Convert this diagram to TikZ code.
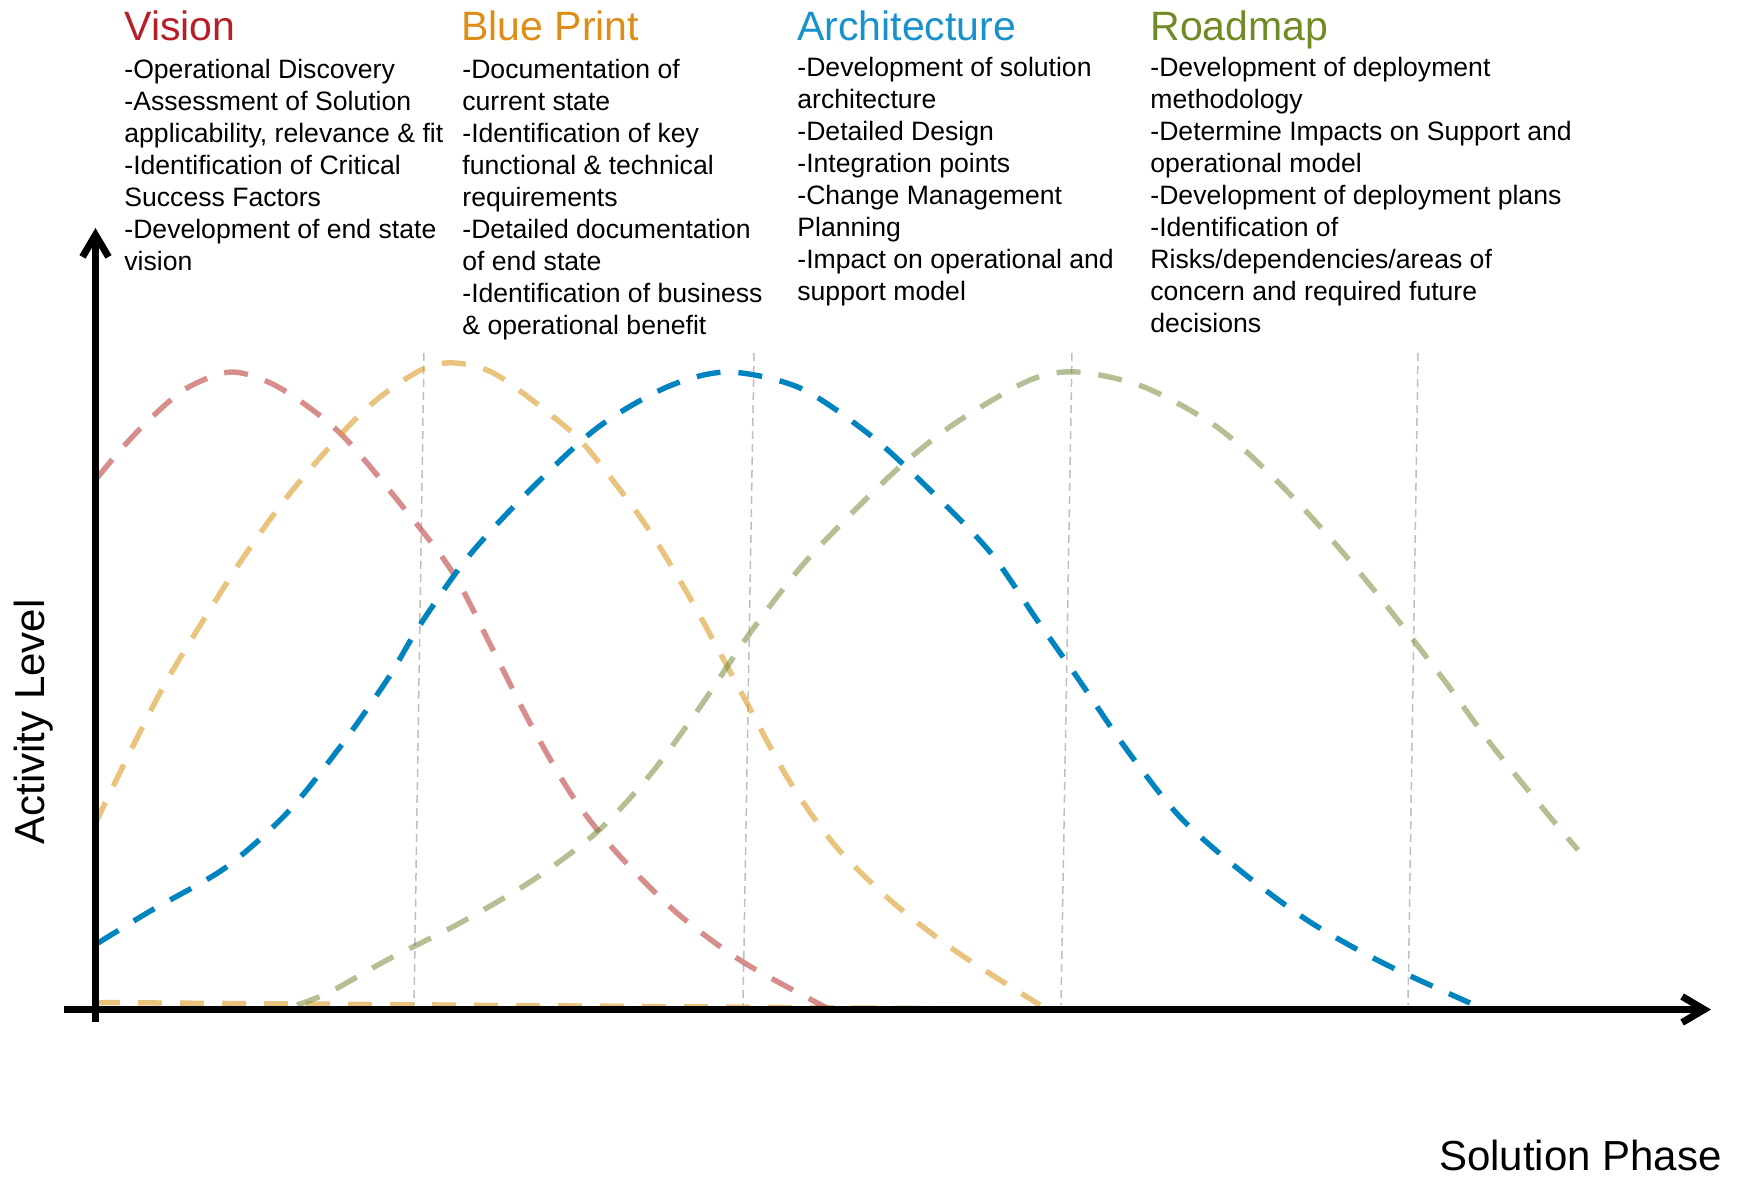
\documentclass[tikz,border=0pt]{standalone}
\usepackage{fontspec}
\setmainfont{Liberation Sans}
\usetikzlibrary{arrows.meta}

\definecolor{visionred}{RGB}{183,31,40}
\definecolor{printorange}{RGB}{222,142,22}
\definecolor{archblue}{RGB}{24,146,204}
\definecolor{roadgreen}{RGB}{112,138,36}
\definecolor{visioncurve}{RGB}{192,80,77}
\definecolor{printcurve}{RGB}{220,155,40}
\definecolor{archcurve}{RGB}{0,132,192}
\definecolor{roadcurve}{RGB}{118,140,60}

\begin{document}
\begin{tikzpicture}[x=0.5pt, y=-0.5pt,
        title/.style = {anchor=base west, inner sep=0, font=\fontsize{20.5}{24}\selectfont},
        body/.style = {anchor=north west, inner sep=0, align=left, font=\fontsize{13.3}{16}\selectfont},
        axislabel/.style = {inner sep=0, font=\fontsize{21}{24}\selectfont},
        phase/.style = {draw=black!25, line width=0.75pt, dash pattern=on 4pt off 2.5pt},
        curve/.style = {line width=2.7pt, dash pattern=on 12pt off 9pt},
        axis/.style = {line width=3.5pt, -{Straight Barb[length=11pt, width=13pt]}}]
                \useasboundingbox (0,0) rectangle (1742,1178);

                \node[title, text=visionred] at (124,40) (vision) {Vision};
                \node[body] at (124,58.5) (visiontext) {-Operational Discovery\\-Assessment of Solution\\applicability, relevance \& fit\\-Identification of Critical\\Success Factors\\-Development of end state\\vision};
                \node[title, text=printorange] at (461,40) (print) {Blue Print};
                \node[body] at (462,58.5) (printtext) {-Documentation of\\current state\\-Identification of key\\functional \& technical\\requirements\\-Detailed documentation\\of end state\\-Identification of business\\\& operational benefit};
                \node[title, text=archblue] at (797,40) (arch) {Architecture};
                \node[body] at (797,56.5) (archtext) {-Development of solution\\architecture\\-Detailed Design\\-Integration points\\-Change Management\\Planning\\-Impact on operational and\\support model};
                \node[title, text=roadgreen] at (1150,40) (road) {Roadmap};
                \node[body] at (1150,56.5) (roadtext) {-Development of deployment\\methodology\\-Determine Impacts on Support and\\operational model\\-Development of deployment plans\\-Identification of\\Risks/dependencies/areas of\\concern and required future\\decisions};

                \node[axislabel, rotate=90, anchor=base] at (44,722) (ylabel) {Activity Level};
                \node[axislabel, anchor=base east] at (1722,1170) (xlabel) {Solution Phase};

                \foreach \xt/\xb in {424/414, 754/743, 1072/1061, 1418/1408}
                    \draw[phase] (\xt,353) -- (\xb,1005);

                \draw[curve, printcurve, draw opacity=0.6] (96,1002.5) -- (1000,1009);
                \draw[curve, visioncurve, draw opacity=0.65] plot[smooth] coordinates {(97,478) (123,447) (152,417) (187,388) (232,372) (280,388) (340,433) (403,507) (453,573) (493,650) (530,723) (573,797) (617,853) (677,913) (743,962) (827,1008)};
                \draw[curve, printcurve, draw opacity=0.6] plot[smooth] coordinates {(95,824) (132,748) (170,675) (237,567) (287,497) (343,432) (380,397) (423,369) (455,363) (497,375) (567,428) (597,460) (647,527) (690,598) (740,690) (787,777) (833,843) (890,900) (957,952) (1040,1005)};
                \draw[curve, archcurve] plot[smooth] coordinates {(98,943) (152,910) (225,868) (287,813) (340,747) (387,680) (420,625) (468,557) (527,493) (597,428) (667,387) (728,372) (800,388) (870,435) (930,490) (990,552) (1037,620) (1077,677) (1127,750) (1180,817) (1242,872) (1310,922) (1383,963) (1470,1003)};
                \draw[curve, roadcurve, draw opacity=0.55] plot[smooth] coordinates {(297,1005) (330,992) (387,960) (460,923) (533,880) (597,832) (650,775) (700,707) (750,633) (800,568) (850,515) (903,464) (957,422) (1030,380) (1078,372) (1144,387) (1217,427) (1278,482) (1332,540) (1382,600) (1444,680) (1490,743) (1550,817) (1578,850)};

                \coordinate (ybot) at (95.5,1022);
                \coordinate (ytop) at (95.5,228);
                \coordinate (xstart) at (64,1009.5);
                \coordinate (xend) at (1711,1009.5);
                \draw[axis] (ybot) -- (ytop);
                \draw[axis] (xstart) -- (xend);
\end{tikzpicture}
\end{document}
